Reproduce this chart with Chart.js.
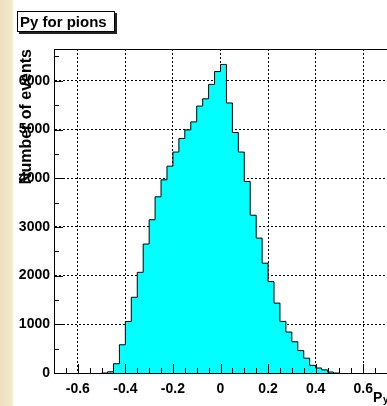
<!DOCTYPE html>
<html>
<head>
<meta charset="utf-8">
<script src="https://cdn.jsdelivr.net/npm/chart.js@4"></script>
<style>
  html, body { margin: 0; padding: 0; }
  body {
    width: 387px; height: 406px; position: relative; overflow: hidden;
    background: linear-gradient(to right, #ece0bd 0px, #f1e7cb 11px, #f7f1e0 13px, #ffffff 14px);
    font-family: 'Liberation Sans', Arial, sans-serif;
  }
  #c { position: absolute; left: 0; top: 0; }
  .hist-title {
    position: absolute; left: 17px; top: 11px; width: 94px; height: 19px;
    border: 1px solid #000; background: #fff; box-shadow: 2px 2px 0 #222;
    font: bold 15px 'Liberation Sans', Arial, sans-serif; line-height: 19px; padding-left: 2px;
    box-sizing: content-box; white-space: nowrap;
  }
  .x-title { position: absolute; font-weight: bold; white-space: nowrap; }
  .x-title.main { left: 373px; top: 390px; font-size: 14px; line-height: 14px; }
  .x-title.sub { left: 383px; top: 395px; font-size: 10px; line-height: 10px; }
</style>
</head>
<body>
<canvas id="c" width="387" height="406"></canvas>
<div class="hist-title">Py for pions</div>
<span class="x-title main">P</span><span class="x-title sub">y</span>
<script>
// bin low edges (last entry = upper edge of last bin)
const binEdges = [
  -0.5, -0.475, -0.45, -0.425, -0.4, -0.375, -0.35, -0.325, -0.3, -0.275,
  -0.25, -0.225, -0.2, -0.175, -0.15, -0.125, -0.1, -0.075, -0.05, -0.025,
  0, 0.025, 0.05, 0.075, 0.1, 0.125, 0.15, 0.175, 0.2, 0.225,
  0.25, 0.275, 0.3, 0.325, 0.35, 0.375, 0.4, 0.425, 0.45, 0.475, 0.5
];
// entries per bin
const counts = [
  0, 25, 190, 580, 1058, 1555, 2067, 2648, 3147, 3618,
  3967, 4247, 4537, 4815, 4992, 5156, 5481, 5630, 5926, 6190,
  6336, 5545, 4938, 4537, 3933, 3240, 2770, 2255, 1878, 1435,
  1060, 841, 642, 460, 304, 157, 103, 65, 20, 0
];
const xTicks = [-0.6, -0.4, -0.2, 0, 0.2, 0.4, 0.6];
const yTicks = [0, 1000, 2000, 3000, 4000, 5000, 6000];

const points = counts.map((c, i) => ({ x: binEdges[i], y: c }));
points.push({ x: binEdges[binEdges.length - 1], y: 0 });

const labelFont = { family: 'Liberation Sans', size: 14, weight: 'bold' };

// ROOT style ticks drawn inside the frame + top frame line
const rootFrame = {
  id: 'rootFrame',
  afterDraw(chart) {
    const { ctx, chartArea: a, scales: { x, y } } = chart;
    ctx.save();
    ctx.strokeStyle = '#000';
    ctx.lineWidth = 1;
    ctx.beginPath();
    for (let v = 0; v <= 6500; v += 500) {
      const py = Math.round(y.getPixelForValue(v)) + 0.5;
      const len = v % 1000 === 0 ? 9 : 5;
      ctx.moveTo(a.left, py);
      ctx.lineTo(a.left + len, py);
    }
    for (let k = -14; k <= 14; k++) {
      const px = Math.round(x.getPixelForValue(k * 0.05)) + 0.5;
      const len = k % 4 === 0 ? 9 : 5;
      ctx.moveTo(px, a.bottom);
      ctx.lineTo(px, a.bottom - len);
    }
    ctx.moveTo(a.left, a.top + 0.5);
    ctx.lineTo(a.right, a.top + 0.5);
    ctx.stroke();
    ctx.restore();
  }
};

new Chart(document.getElementById('c'), {
  type: 'line',
  data: {
    datasets: [{
      data: points,
      stepped: true,
      fill: 'origin',
      backgroundColor: '#00ffff',
      borderColor: '#000',
      borderWidth: 1,
      pointRadius: 0
    }]
  },
  options: {
    responsive: false,
    animation: false,
    layout: { padding: { top: 49, right: 0, left: 0, bottom: 0 } },
    plugins: { legend: { display: false }, tooltip: { enabled: false } },
    scales: {
      x: {
        type: 'linear', min: -0.7, max: 0.7, z: 1,
        afterFit: s => { s.height = 33; },
        afterBuildTicks: s => { s.ticks = xTicks.map(v => ({ value: v })); },
        grid: { color: '#000', lineWidth: 1, drawTicks: false },
        border: { color: '#000', width: 1, dash: [2, 2] },
        ticks: {
          color: '#000', font: labelFont, padding: 8, maxRotation: 0, autoSkip: false,
          callback: v => v === 0 ? '0' : v.toFixed(1)
        }
      },
      y: {
        min: 0, max: 6653, z: 1,
        afterFit: s => { s.width = 54; },
        afterBuildTicks: s => { s.ticks = yTicks.map(v => ({ value: v })); },
        grid: { color: '#000', lineWidth: 1, drawTicks: false },
        border: { color: '#000', width: 1, dash: [2, 2] },
        ticks: { color: '#000', font: labelFont, padding: 4, callback: v => String(v) },
        title: {
          display: true, text: 'Number of events', align: 'end', color: '#000',
          font: { family: 'Liberation Sans', size: 16, weight: 'bold' },
          padding: { top: 17, bottom: 0 }
        }
      }
    }
  },
  plugins: [rootFrame]
});
</script>
</body>
</html>
